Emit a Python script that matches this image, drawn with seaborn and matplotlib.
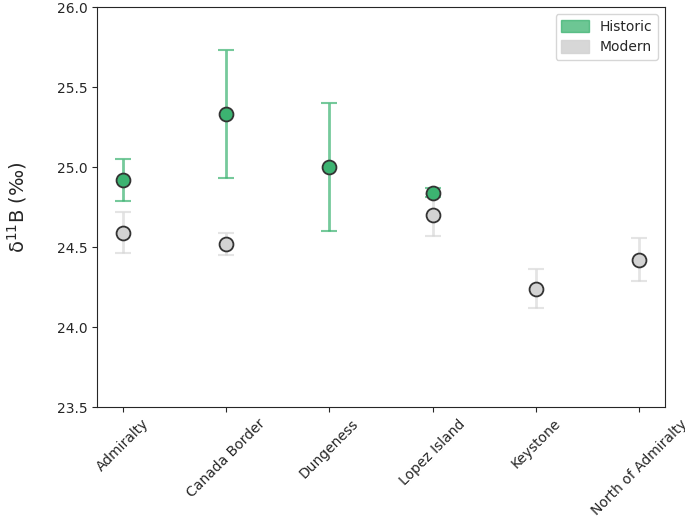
import numpy as np
import matplotlib
matplotlib.use('Agg')
import matplotlib.pyplot as plt
from matplotlib.patches import Patch
import pandas as pd
import seaborn as sns

sites = ['Admiralty', 'Canada Border', 'Dungeness', 'Lopez Island',
         'Keystone', 'North of Admiralty']

hist_sites = ['Admiralty', 'Canada Border', 'Dungeness', 'Lopez Island']
hist_mean = [24.92, 25.33, 25.00, 24.84]
hist_err = [0.13, 0.40, 0.40, 0.03]

mod_sites = ['Admiralty', 'Canada Border', 'Lopez Island', 'Keystone',
             'North of Admiralty']
mod_mean = [24.59, 24.52, 24.70, 24.24, 24.42]
mod_err = [0.13, 0.07, 0.13, 0.12, 0.135]

green = '#3cb371'
grey = '#d3d3d3'

sns.set_style('ticks')
fig, ax = plt.subplots(figsize=(6.85, 5.27), dpi=100)

pos = {s: i for i, s in enumerate(sites)}
df_mod = pd.DataFrame({'site': mod_sites, 'mean': mod_mean, 'err': mod_err})
df_mod['x'] = df_mod['site'].map(pos)
df_hist = pd.DataFrame({'site': hist_sites, 'mean': hist_mean, 'err': hist_err})
df_hist['x'] = df_hist['site'].map(pos)

for df, c, a in ((df_mod, grey, 0.6), (df_hist, green, 0.7)):
    ax.errorbar(df['x'], df['mean'], yerr=df['err'], fmt='none', ecolor=c,
                alpha=a, elinewidth=2, capsize=6, capthick=1.5, zorder=2)
    sns.scatterplot(data=df, x='x', y='mean', color=c, s=100,
                    edgecolor='#333333', linewidth=1.3, ax=ax, zorder=3)

ax.set_xticks(range(len(sites)))
ax.set_xticklabels(sites, rotation=45)
ax.set_xlim(-0.25, len(sites) - 0.75)
ax.set_ylim(23.5, 26.0)
ax.set_yticks(np.arange(23.5, 26.01, 0.5))
ax.set_xlabel('')
ax.set_ylabel('δ$^{11}$B (‰)', fontsize=14, labelpad=20)
ax.tick_params(labelsize=10)

handles = [Patch(facecolor=green, alpha=0.75, edgecolor=green, label='Historic'),
           Patch(facecolor=grey, alpha=0.9, edgecolor=grey, label='Modern')]
ax.legend(handles=handles, loc='upper right', fontsize=10, handleheight=1.0)

fig.subplots_adjust(left=0.1416, right=0.971, top=0.9867, bottom=0.2277)
fig.savefig('out.png', dpi=100, facecolor='white')
